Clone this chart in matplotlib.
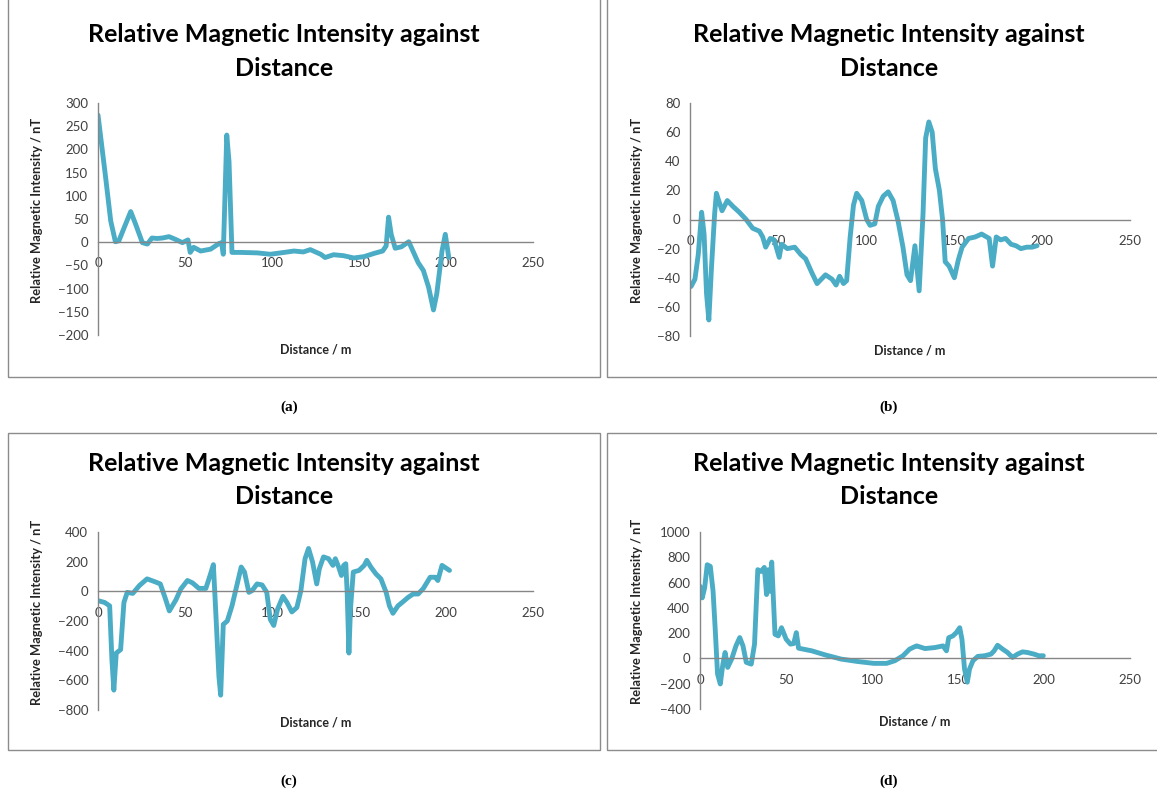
import matplotlib
matplotlib.use('Agg')
import matplotlib.pyplot as plt
from matplotlib.patches import Rectangle
from matplotlib.ticker import MultipleLocator

# ---- data ----
a_dist = [0, 4.4, 7.3, 10, 12, 15, 18.8, 21.6, 25.5, 28.4, 31, 34, 37, 40.8, 44.6,
          48.5, 51.7, 53, 55, 59, 64.7, 69.5, 71, 72, 74, 75.3, 77, 82, 91.5, 99,
          107, 112.6, 118, 122, 128, 130.5, 135.4, 141, 147, 153, 158.8, 163.6,
          165.6, 167, 168.5, 170.8, 174.3, 178.6, 181, 184, 187, 190, 192.8, 194.7,
          197.7, 199.6, 201.6]
a_mag = [274, 139, 46, 1, 3, 31, 66, 39, -1, -4, 9, 8, 9, 12, 6,
         -1, 5, -22, -11, -19, -15, -3, -1, -26, 231, 174, -22, -22, -23, -26,
         -22, -19, -21, -16, -26, -33, -27, -29, -34, -31, -24, -19,
         -8, 54, 17, -13, -10, 1, -19, -44, -61, -97, -146, -111,
         -19, 17, -33]

b_dist = [0.6, 2.8, 4.7, 6.6, 8, 9.4, 10.7, 12.2, 14, 15, 16.3, 18.2, 21.2, 24.4,
          28, 31.9, 35.6, 39.4, 41.3, 43, 45.6, 47.8, 50.7, 52, 55.3, 59.5, 62.9,
          65.7, 69.4, 72.2, 77, 80.7, 83, 85, 87.2, 89, 91, 92.9, 94.7, 97.6, 100.4,
          102.3, 105, 107, 109.8, 112.6, 115.4, 118.2, 121, 123.3, 125.3, 127.8,
          130.2, 132.4, 133.9, 135.7, 137.6, 139.4, 141.7, 143.5, 145, 147.2, 150.2,
          152.4, 154.6, 158.3, 162, 165.7, 170, 171.9, 174, 176.5, 179.3, 182.4,
          185.2, 188, 191.3, 194.4, 197.2]
b_mag = [-46, -41, -24, 5, -10, -51, -69, -33, 4, 18, 13, 6, 13, 9,
         5, 0, -6, -8, -12, -19, -13, -14, -26, -17, -20, -19, -24,
         -27, -37, -44, -38, -41, -45, -39, -44, -42, -12, 10, 18, 13, 0,
         -4, -3, 9, 16, 19, 13, -1, -19, -38, -42, -18,
         -49, 4, 56, 67, 60, 35, 20, 0, -29, -32, -40,
         -28, -19, -13, -12, -10, -13, -32, -12, -14, -13, -17,
         -18, -20, -19, -19, -18]

c_dist = [0.4, 3.8, 6.7, 8, 9.1, 10.5, 13, 14.9, 16.8, 20, 23.8, 28.2, 32.4, 35.8,
          38.5, 41, 44.8, 47.6, 51.4, 54.3, 58, 62, 64.4, 66.3, 67.6, 69.5, 70.5,
          72, 74.3, 77, 80, 82.3, 84.2, 86.7, 88.6, 91.4, 94.3, 97, 99, 101, 103.2,
          106.3, 108.6, 111.4, 114.3, 116.6, 119, 121, 123.3, 125.7, 127.2, 129.6,
          132.5, 135, 136.4, 138.3, 139.9, 141.2, 142.4, 143.2, 144.2, 145.1, 146.7,
          150, 153, 154.5, 156.8, 159.7, 162.6, 165.6, 167.5, 169.5, 172.4, 175.3,
          178.2, 181.1, 184, 187, 190.9, 193.8, 195.3, 197.7, 200, 202]
c_mag = [-64, -75, -98, -461, -666, -416, -393, -75, -7, -14, 39, 84, 66, 50,
         -41, -132, -57, 16, 73, 57, 20, 20, 107, 180, -120, -575, -700,
         -223, -200, -98, 50, 164, 130, -7, 5, 50, 43, -7, -189, -230, -120,
         -34, -75, -139, -109, 5, 220, 289, 198, 50, 152, 232,
         220, 175, 220, 164, 107, 175, 186, -7, -416, -120, 130,
         141, 175, 209, 164, 118, 84, -7, -98, -148, -98, -70,
         -41, -18, -18, 20, 95, 95, 73, 175, 157, 141]

d_dist = [0, 1.3, 2.7, 4.2, 6, 7.6, 8.9, 10.2, 11.8, 13.3, 14.6, 16.1, 18.4, 20.9,
          23.1, 25, 26.9, 29.8, 31.7, 33.6, 35.5, 37.4, 38.7, 39.8, 40.6, 41.7,
          43.6, 45.5, 47.4, 50.1, 52.6, 54.5, 56, 57.3, 60.2, 65, 72.5, 82, 91.5,
          101, 108.5, 113.3, 118, 121.8, 124.7, 126, 130.8, 136.5, 141.3, 143.3,
          144.6, 147, 149, 151, 152.3, 153.8, 155.4, 156.7, 158.7, 161.5, 165.4,
          169.2, 171, 173, 176, 178.8, 181.7, 184.6, 187.5, 190.4, 194.2, 197, 199.6]
d_mag = [571, 479, 558, 741, 728, 531, 217, -123, -202, -45, 47, -71, -5, 99,
         165, 99, -31, -45, 113, 702, 688, 720, 505, 702, 531, 762,
         191, 178, 243, 152, 113, 118, 204, 81, 73, 60, 29, -5, -24,
         -39, -39, -18, 21, 73, 92, 99, 78, 86, 99, 60,
         164, 178, 204, 243, 151, -84, -188, -84, -18, 16, 21,
         34, 60, 104, 73, 47, 8, 34, 52, 47, 34, 21, 21]

TITLE_LINES = ['Relative Magnetic Intensity against', 'Distance']
YLABEL = 'Relative Magnetic Intensity / nT'
XLABEL = 'Distance / m'
LINE_COLOR = '#4BACC6'
AXIS_COLOR = '#868686'

W, H = 1157, 794
plt.rcParams['font.family'] = ['Lato', 'DejaVu Sans']

fig = plt.figure(figsize=(W / 100, H / 100), dpi=100)


def px_rect(x0, y0, x1, y1):
    """Pixel box (top-left origin) -> figure fraction [l, b, w, h]."""
    return [x0 / W, 1 - y1 / H, (x1 - x0) / W, (y1 - y0) / H]


panels = [
    # dist, mag, axes box px, ylim, ystep, frame px, centre x, title y, tag, tag y, ylabel x
    (a_dist, a_mag, (98, 103, 533, 335), (-200, 300), 50, (8, -2, 600, 377), 284, 35, '(a)', 407, 37),
    (b_dist, b_mag, (690, 103, 1130, 336), (-80, 80), 20, (607, -2, 1160, 377), 889, 35, '(b)', 407, 637),
    (c_dist, c_mag, (98, 532, 533, 710), (-800, 400), 200, (8, 433, 600, 750), 284, 463, '(c)', 781, 37),
    (d_dist, d_mag, (700, 532, 1130, 709), (-400, 1000), 200, (607, 433, 1160, 750), 889, 463, '(d)', 781, 637),
]

for dist, mag, box, ylim, ystep, frame, cx, ty, tag, tag_y, ylx in panels:
    # grey chart-area frame
    fx0, fy0, fx1, fy1 = frame
    fig.patches.append(Rectangle((fx0 / W, 1 - fy1 / H), (fx1 - fx0) / W, (fy1 - fy0) / H,
                                 transform=fig.transFigure, fill=False,
                                 edgecolor='#8c8c8c', linewidth=1.0))

    ax = fig.add_axes(px_rect(*box))
    ax.plot(dist, mag, color=LINE_COLOR, linewidth=3.5,
            solid_joinstyle='round', solid_capstyle='round')
    ax.set_xlim(0, 250)
    ax.set_ylim(*ylim)
    ax.xaxis.set_major_locator(MultipleLocator(50))
    ax.yaxis.set_major_locator(MultipleLocator(ystep))

    ax.spines['top'].set_visible(False)
    ax.spines['right'].set_visible(False)
    ax.spines['bottom'].set_position(('data', 0))
    for s in ('left', 'bottom'):
        ax.spines[s].set_color(AXIS_COLOR)
        ax.spines[s].set_linewidth(1.0)
    ax.tick_params(axis='both', length=0, labelsize=9.5, labelcolor='#404040')
    ax.tick_params(axis='x', pad=11)
    ax.tick_params(axis='y', pad=7)

    ax.text(0.5, -0.035, XLABEL, transform=ax.transAxes, ha='center', va='top',
            fontsize=9, fontweight='bold', color='#262626')
    fig.text(ylx / W, 1 - ((box[1] + box[3]) / 2 - 9) / H, YLABEL, rotation=90,
             ha='center', va='center', fontsize=9.3, fontweight='bold', color='#262626')

    # two-line chart title
    fig.text(cx / W, 1 - ty / H, TITLE_LINES[0], ha='center', va='center',
             fontsize=18, fontweight='bold', color='#000000')
    fig.text(cx / W, 1 - (ty + 33) / H, TITLE_LINES[1], ha='center', va='center',
             fontsize=18, fontweight='bold', color='#000000')

    fig.text((289 if cx < 600 else 889) / W, 1 - tag_y / H, tag, ha='center',
             va='center', fontsize=11, fontweight='bold', family='Liberation Serif')

fig.savefig('out.png', dpi=100, facecolor='white')
